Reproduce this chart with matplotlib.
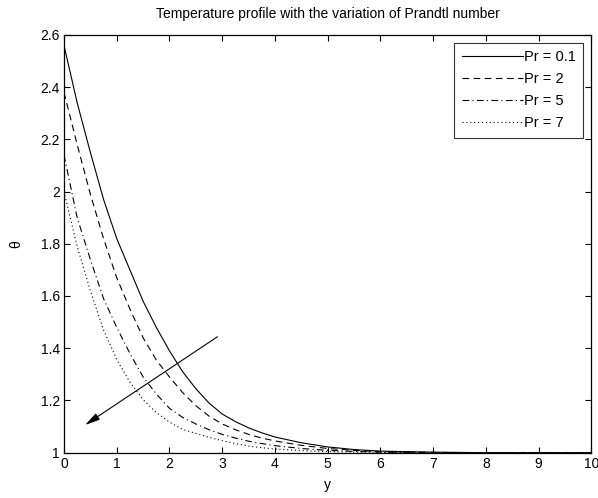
import matplotlib
matplotlib.use("Agg")
import matplotlib.pyplot as plt

# values
y_pos = [0, 0.25, 0.5, 0.75, 1.0, 1.25, 1.5, 1.75, 2.0, 2.25, 2.5, 2.75,
         3.0, 3.25, 3.5, 3.75, 4.0, 4.5, 5.0, 5.5, 6.0, 7.0, 8.0, 9.0, 10.0]

theta_pr01 = [2.56, 2.34, 2.15, 1.97, 1.82, 1.70, 1.58, 1.48, 1.39, 1.31, 1.245, 1.19,
              1.148, 1.119, 1.095, 1.076, 1.06, 1.038, 1.022, 1.012, 1.006, 1.002, 1.0, 1.0, 1.0]
theta_pr2 = [2.38, 2.18, 1.99, 1.82, 1.67, 1.55, 1.44, 1.355, 1.29, 1.23, 1.18, 1.14,
             1.11, 1.088, 1.07, 1.056, 1.045, 1.028, 1.016, 1.009, 1.004, 1.001, 1.0, 1.0, 1.0]
theta_pr5 = [2.14, 1.90, 1.74, 1.59, 1.48, 1.38, 1.29, 1.225, 1.17, 1.135, 1.11, 1.088,
             1.07, 1.056, 1.044, 1.035, 1.027, 1.016, 1.009, 1.005, 1.002, 1.0, 1.0, 1.0, 1.0]
theta_pr7 = [2.00, 1.79, 1.62, 1.47, 1.357, 1.27, 1.203, 1.154, 1.117, 1.089, 1.074, 1.059,
             1.046, 1.035, 1.025, 1.019, 1.014, 1.008, 1.004, 1.002, 1.001, 1.0, 1.0, 1.0, 1.0]

labels = ["Pr = 0.1", "Pr = 2", "Pr = 5", "Pr = 7"]
styles = ["-", (0, (6, 4)), (0, (6, 3, 1, 3)), (0, (1, 2.5))]

arrow_tail = (2.91, 1.444)
arrow_head = (0.40, 1.106)

plt.rcParams["font.family"] = ["Liberation Sans", "DejaVu Sans"]
plt.rcParams["font.size"] = 10

fig = plt.figure(figsize=(5.98, 4.98), dpi=100)
ax = fig.add_axes([0.107, 0.091, 0.882, 0.839])

for th, lab, ls in zip([theta_pr01, theta_pr2, theta_pr5, theta_pr7], labels, styles):
    ax.plot(y_pos, th, color="black", linestyle=ls, linewidth=0.8, label=lab)

ax.annotate("", xy=arrow_head, xytext=arrow_tail,
            arrowprops=dict(arrowstyle="-|>,head_length=0.9,head_width=0.22",
                            color="black", linewidth=0.8, shrinkA=0, shrinkB=0))

ax.set_xlim(0, 10)
ax.set_ylim(1, 2.6)
ax.set_xticks(range(0, 11))
ax.set_yticks([1, 1.2, 1.4, 1.6, 1.8, 2, 2.2, 2.4, 2.6])
ax.set_yticklabels(["1", "1.2", "1.4", "1.6", "1.8", "2", "2.2", "2.4", "2.6"])
ax.tick_params(direction="in", top=True, right=True, length=4, width=0.8,
               labelsize=10, pad=3)
for sp in ax.spines.values():
    sp.set_linewidth(0.9)

ax.set_xlabel("y", fontsize=10, labelpad=5)
ax.set_ylabel("θ", fontsize=10, labelpad=12)
ax.set_title("Temperature profile with the variation of Prandtl number", fontsize=10, pad=12)

leg = ax.legend(loc="upper right", fontsize=10.5, frameon=True, fancybox=False,
                edgecolor="black", handlelength=4.2, handletextpad=0.1,
                borderpad=0.5, labelspacing=0.55, borderaxespad=0.55)
leg.get_frame().set_linewidth(0.8)

fig.savefig("out.png", dpi=100)
